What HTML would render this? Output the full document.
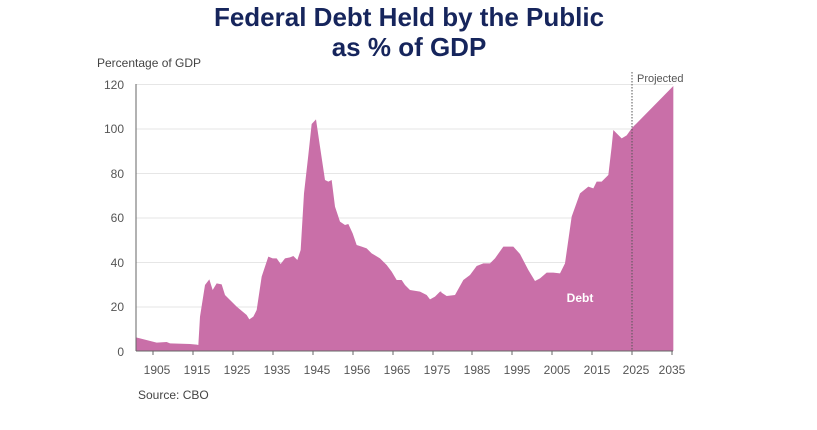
<!DOCTYPE html>
<html><head><style>
body{margin:0;background:#fff;width:817px;height:425px;overflow:hidden;font-family:"Liberation Sans",sans-serif;}
</style></head><body>
<svg width="817" height="425" xmlns="http://www.w3.org/2000/svg" font-family="Liberation Sans, sans-serif">
<text x="409" y="26" text-anchor="middle" font-size="26" font-weight="bold" fill="#16255c">Federal Debt Held by the Public</text>
<text x="409" y="56" text-anchor="middle" font-size="26" font-weight="bold" fill="#16255c">as % of GDP</text>
<text x="97" y="67" font-size="12" fill="#444">Percentage of GDP</text>
<g stroke="#e6e6e6" stroke-width="1">
<line x1="136" x2="673" y1="84.5" y2="84.5"/><line x1="136" x2="673" y1="129" y2="129"/>
<line x1="136" x2="673" y1="173.5" y2="173.5"/><line x1="136" x2="673" y1="218" y2="218"/>
<line x1="136" x2="673" y1="262.5" y2="262.5"/><line x1="136" x2="673" y1="307" y2="307"/>
</g>
<g font-size="12" fill="#555" text-anchor="end">
<text x="124" y="89">120</text><text x="124" y="133">100</text><text x="124" y="178">80</text>
<text x="124" y="222">60</text><text x="124" y="267">40</text><text x="124" y="311">20</text><text x="124" y="356">0</text>
</g>
<g transform="translate(90,50) scale(0.33333)" fill="#c96fa8">
<polygon points="138,903 138,862 150,865 200,878 230,876 240,880 300,882 320,884 325,885 330,800 345,705 358,688 368,720 380,700 395,703 405,735 420,750 440,770 470,795 478,808 490,800 500,780 515,680 535,620 548,625 560,625 572,642 585,625 600,622 610,618 622,630 632,600 642,430 655,315 665,222 678,208 690,290 705,390 715,395 725,390 735,470 750,515 765,525 775,522 788,550 800,585 815,590 830,595 845,610 870,625 890,645 905,665 920,690 935,690 945,705 960,720 990,725 1010,735 1020,748 1035,740 1050,725 1054,725 1054,903"/>
</g>
<g transform="translate(440,50) scale(0.33333)" fill="#c96fa8">
<polygon points="0,903 0,725 20,738 45,735 70,690 90,675 110,648 130,640 150,640 165,625 190,590 220,590 240,612 265,660 285,693 300,685 320,668 340,668 360,670 375,640 395,500 420,430 445,410 460,415 470,395 485,395 505,375 515,290 520,240 530,250 545,265 560,256 575,235 700,108 700,903"/>
</g>
<line x1="632" x2="632" y1="72" y2="351" stroke="#555" stroke-width="1" stroke-dasharray="1.5,1.5"/>
<text x="637" y="82" font-size="11" fill="#555">Projected</text>
<text x="580" y="302" font-size="12" font-weight="bold" fill="#fff" text-anchor="middle">Debt</text>
<line x1="136" x2="136" y1="84" y2="351" stroke="#666"/>
<line x1="136" x2="673" y1="351" y2="351" stroke="#666"/>
<g stroke="#666">
<line x1="153" x2="153" y1="351" y2="355"/><line x1="193" x2="193" y1="351" y2="355"/><line x1="233" x2="233" y1="351" y2="355"/>
<line x1="273" x2="273" y1="351" y2="355"/><line x1="313" x2="313" y1="351" y2="355"/><line x1="353" x2="353" y1="351" y2="355"/>
<line x1="393" x2="393" y1="351" y2="355"/><line x1="433" x2="433" y1="351" y2="355"/><line x1="472" x2="472" y1="351" y2="355"/>
<line x1="512" x2="512" y1="351" y2="355"/><line x1="552" x2="552" y1="351" y2="355"/><line x1="592" x2="592" y1="351" y2="355"/>
<line x1="632" x2="632" y1="351" y2="355"/><line x1="672" x2="672" y1="351" y2="355"/>
</g>
<g font-size="12" fill="#555" text-anchor="middle">
<text x="157" y="374">1905</text><text x="197" y="374">1915</text><text x="237" y="374">1925</text>
<text x="277" y="374">1935</text><text x="317" y="374">1945</text><text x="357" y="374">1956</text>
<text x="397" y="374">1965</text><text x="437" y="374">1975</text><text x="477" y="374">1985</text>
<text x="517" y="374">1995</text><text x="557" y="374">2005</text><text x="597" y="374">2015</text>
<text x="636" y="374">2025</text><text x="672" y="374">2035</text>
</g>
<text x="138" y="399" font-size="12" fill="#444">Source: CBO</text>
</svg>
</body></html>
